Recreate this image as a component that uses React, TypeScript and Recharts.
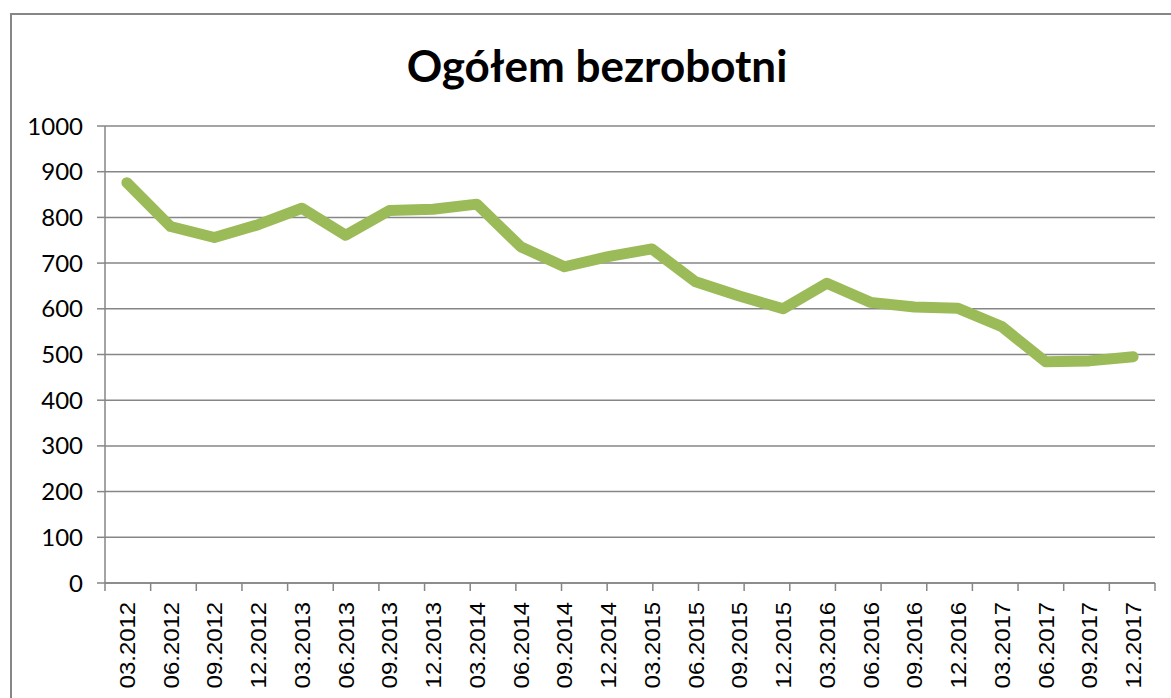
import React from "react";
import { ComposedChart, Line, XAxis, YAxis, CartesianGrid } from "recharts";

const categories = [
  "03.2012", "06.2012", "09.2012", "12.2012",
  "03.2013", "06.2013", "09.2013", "12.2013",
  "03.2014", "06.2014", "09.2014", "12.2014",
  "03.2015", "06.2015", "09.2015", "12.2015",
  "03.2016", "06.2016", "09.2016", "12.2016",
  "03.2017", "06.2017", "09.2017", "12.2017",
];
const values = [
  876, 780, 756, 784, 820, 761, 815, 818, 829, 736, 692, 714,
  731, 659, 628, 600, 656, 614, 604, 601, 561, 484, 486, 495,
];
const yTicks = [0, 100, 200, 300, 400, 500, 600, 700, 800, 900, 1000];
const boundaryTicks = categories.map((_, i) => i).concat([categories.length]);
const title = "Ogółem bezrobotni";

const data = categories.map((c, i) => ({ name: c, value: values[i] }));

const GRAY = "#868686";

const XTick = (props: any) => {
  const { x, y, payload } = props;
  return (
    <g transform={`translate(${x},${y})`}>
      <text
        transform="rotate(-90) scale(1.09,1)"
        x={-9}
        y={0}
        dy="0.36em"
        textAnchor="end"
        fill="#000"
        fontFamily="'Liberation Sans', Arial, sans-serif"
        fontSize={22}
      >
        {payload.value}
      </text>
    </g>
  );
};

const EmptyTick = () => <g />;

export default function App() {
  return (
    <div
      style={{
        position: "fixed",
        left: 0,
        top: 0,
        width: 1171,
        height: 698,
        overflow: "hidden",
        background: "#fff",
      }}
    >
      <div
        style={{
          position: "absolute",
          left: 10,
          top: 13,
          width: 1174,
          height: 720,
          border: `2px solid ${GRAY}`,
          boxSizing: "border-box",
        }}
      />
      <svg
        width={1171}
        height={120}
        style={{ position: "absolute", left: 0, top: 0 }}
      >
        <text
          x={597}
          y={82}
          textAnchor="middle"
          fontFamily="Lato, 'Open Sans', sans-serif"
          fontWeight={700}
          fontSize={44}
          fill="#000"
        >
          {title}
        </text>
      </svg>
      <div style={{ position: "absolute", left: 0, top: 0 }}>
        <ComposedChart
          width={1171}
          height={698}
          data={data}
          margin={{ top: 126, right: 16, bottom: 0, left: 0 }}
        >
          <CartesianGrid
            xAxisId="cat"
            vertical={false}
            stroke={GRAY}
            strokeWidth={1.5}
          />
          <XAxis
            xAxisId="bnd"
            type="number"
            domain={[0, categories.length]}
            ticks={boundaryTicks}
            interval={0}
            height={1}
            tick={<EmptyTick />}
            tickLine={{ stroke: GRAY, strokeWidth: 1.5 }}
            tickSize={8}
            stroke={GRAY}
            strokeWidth={1.5}
          />
          <XAxis
            xAxisId="cat"
            dataKey="name"
            scale="band"
            interval={0}
            height={114}
            tickSize={8}
            tickMargin={0}
            tickLine={false}
            axisLine={false}
            tick={<XTick />}
          />
          <YAxis
            domain={[0, 1000]}
            ticks={yTicks}
            width={105}
            tickSize={8}
            tickMargin={14}
            stroke={GRAY}
            strokeWidth={1.5}
            tick={{
              fill: "#000",
              fontSize: 24,
              fontFamily: "Lato, 'Open Sans', sans-serif",
            }}
            interval={0}
          />
          <Line
            xAxisId="cat"
            type="linear"
            dataKey="value"
            stroke="#9BBB59"
            strokeWidth={11}
            strokeLinecap="round"
            strokeLinejoin="round"
            dot={false}
            isAnimationActive={false}
          />
        </ComposedChart>
      </div>
    </div>
  );
}
